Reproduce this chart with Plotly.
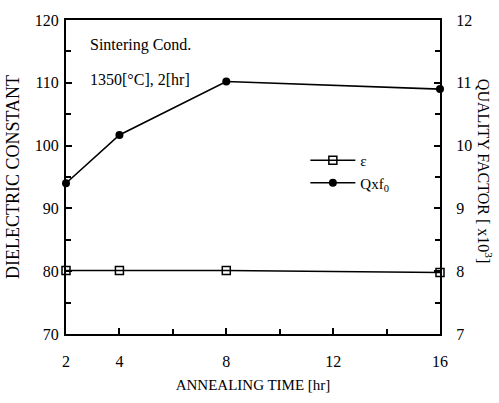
import plotly.graph_objects as go

time_hr = [2, 4, 8, 16]
eps_values = [80.1, 80.1, 80.1, 79.8]
qf_values = [9.4, 10.17, 11.02, 10.9]

x_tickvals = [2, 4, 8, 12, 16]

FONT = "Liberation Serif"

fig = go.Figure()
fig.add_trace(go.Scatter(
    x=time_hr, y=eps_values, name="\u03b5", mode="lines+markers",
    line=dict(color="black", width=1.6),
    marker=dict(symbol="square-open", size=8, color="black", line=dict(width=1.5)),
    yaxis="y", cliponaxis=False))
fig.add_trace(go.Scatter(
    x=time_hr, y=qf_values, name="Qxf<sub>0</sub>", mode="lines+markers",
    line=dict(color="black", width=1.6),
    marker=dict(symbol="circle", size=8, color="black"),
    yaxis="y2", cliponaxis=False))

axis_common = dict(showline=True, linecolor="black", linewidth=2, showgrid=False,
                   zeroline=False, ticks="inside", tickcolor="black", tickwidth=1.5,
                   ticklen=6, tickfont=dict(family=FONT, size=16, color="black"))
minor_common = dict(ticks="inside", ticklen=5, tickcolor="black", tickwidth=1.5, showgrid=False)

fig.update_layout(
    width=499, height=403,
    margin=dict(l=63, r=59, t=15, b=65),
    paper_bgcolor="white", plot_bgcolor="white",
    font=dict(family=FONT, size=14, color="black"),
    showlegend=True,
    legend=dict(x=0.64, y=0.605, xanchor="left", yanchor="top",
                bgcolor="rgba(0,0,0,0)", font=dict(family=FONT, size=15),
                itemwidth=45, tracegroupgap=0),
    xaxis=dict(range=[2, 16], tickvals=x_tickvals,
               minor=dict(tick0=2, dtick=2, **minor_common),
               mirror=True, ticklabelstandoff=12,
               title=dict(text="ANNEALING TIME [hr]", font=dict(family=FONT, size=15), standoff=10),
               **axis_common),
    yaxis=dict(range=[70, 120], dtick=10, ticklabelstandoff=2,
               minor=dict(dtick=5, **minor_common),
               title=dict(text="DIELECTRIC CONSTANT", font=dict(family=FONT, size=18), standoff=10),
               **axis_common),
    yaxis2=dict(range=[7, 12], dtick=1, overlaying="y", side="right",
                minor=dict(dtick=0.5, **minor_common),
                ticklabelstandoff=11,
                **axis_common),
)

fig.add_annotation(text="Sintering Cond.", x=0.06, y=0.92, xref="paper", yref="paper",
                   xanchor="left", yanchor="middle", showarrow=False,
                   font=dict(family=FONT, size=16))
fig.add_annotation(text="1350[\u00b0C], 2[hr]", x=0.06, y=0.81, xref="paper", yref="paper",
                   xanchor="left", yanchor="middle", showarrow=False,
                   font=dict(family=FONT, size=16))
fig.add_annotation(text="QUALITY FACTOR [ x10<sup>3</sup>]", x=1.12, y=0.52,
                   xref="paper", yref="paper", textangle=90, showarrow=False,
                   xanchor="center", yanchor="middle",
                   font=dict(family=FONT, size=16))

fig.write_html("out.html", config={"displayModeBar": False},
               post_script="document.body.style.margin='0';")
